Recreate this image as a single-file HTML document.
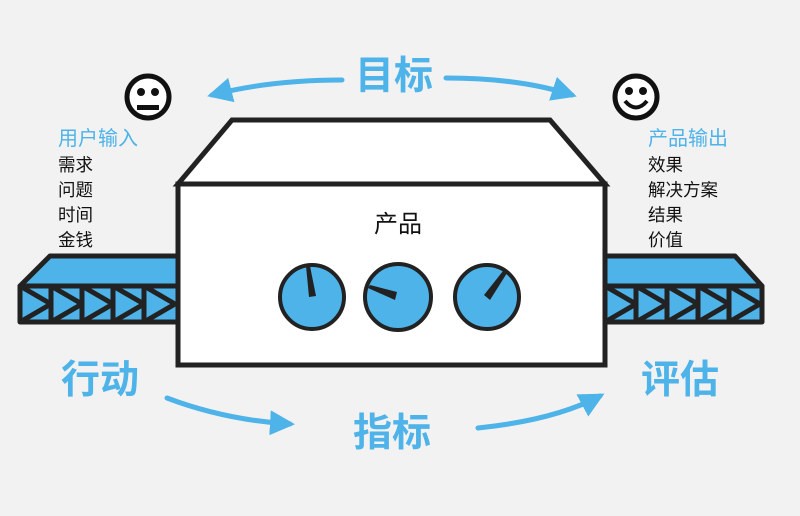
<!DOCTYPE html>
<html><head><meta charset="utf-8"><style>
body{margin:0;background:#f2f2f2;}
svg{display:block}
text{font-family:"Liberation Sans","Noto Sans CJK SC",sans-serif;}
</style></head><body>
<svg width="800" height="516" viewBox="0 0 800 516" xmlns="http://www.w3.org/2000/svg">
<defs>
<marker id="ah" viewBox="0 0 10 10" refX="8" refY="5" markerWidth="5" markerHeight="5" orient="auto-start-reverse" markerUnits="strokeWidth">
<path d="M0,0 L10,5 L0,10 z" fill="#4db3e9"/></marker>
</defs>
<rect width="800" height="516" fill="#f2f2f2"/>
<g stroke="#222" stroke-width="5" stroke-linejoin="round" fill="#4db3e9">
<path d="M50,256 L180,256 L180,286 L20,286 Z"/>
<rect x="20" y="286" width="160" height="36"/>
<path d="M20,286 L51,304 L20,322 M51,286 L82,304 L51,322 M82,286 L113,304 L82,322 M113,286 L144,304 L113,322 M144,286 L175,304 L144,322 M51,286 V322 M82,286 V322 M113,286 V322 M144,286 V322" fill="none"/>
<path d="M603,256 L735,256 L762,286 L603,286 Z"/>
<rect x="603" y="286" width="159" height="36"/>
<path d="M605,286 L636,304 L605,322 M636,286 L667,304 L636,322 M667,286 L698,304 L667,322 M698,286 L729,304 L698,322 M729,286 L760,304 L729,322 M636,286 V322 M667,286 V322 M698,286 V322 M729,286 V322" fill="none"/>
</g>
<g stroke="#222" stroke-width="5" stroke-linejoin="miter" fill="#fff">
<path d="M178,184 L232,120 L550,120 L605,184 Z"/>
<rect x="178" y="184" width="427" height="181"/>
</g>
<text x="398" y="232" font-size="24" text-anchor="middle" fill="#111">产品</text>
<g stroke="#222" stroke-width="4" fill="#4db3e9">
<circle cx="312" cy="297" r="32"/>
<circle cx="398" cy="297" r="33"/>
<circle cx="487" cy="297" r="32"/>
</g>
<g fill="#222">
<path d="M306,266 L310,266 L316,296 L309,297 Z"/>
<path d="M368,288 L370,285 L397,292 L395,300 Z"/>
<path d="M503,271 L507,273 L490,300 L484,295 Z"/>
</g>
<g>
<circle cx="148" cy="97" r="21" fill="#fff" stroke="#111" stroke-width="5"/>
<circle cx="141" cy="92" r="4" fill="#111"/><circle cx="155" cy="92" r="4" fill="#111"/>
<rect x="137" y="105" width="22" height="5" fill="#111"/>
<circle cx="636" cy="97" r="21" fill="#fff" stroke="#111" stroke-width="5"/>
<circle cx="629" cy="91" r="4" fill="#111"/><circle cx="643" cy="91" r="4" fill="#111"/>
<path d="M625,101 Q636,114 647,101" fill="none" stroke="#111" stroke-width="4"/>
</g>
<g stroke="#4db3e9" stroke-width="5" fill="none" stroke-linecap="round">
<path d="M342,80 Q270,80 212,95" marker-end="url(#ah)"/>
<path d="M446,78 Q520,78 572,95" marker-end="url(#ah)"/>
<path d="M167,398 Q225,420 290,424" marker-end="url(#ah)"/>
<path d="M478,428 Q555,420 600,396" marker-end="url(#ah)"/>
</g>
<g fill="#4db3e9" font-size="39" font-weight="bold" text-anchor="middle">
<text x="394" y="89">目标</text>
<text x="100" y="393">行动</text>
<text x="680" y="393">评估</text>
<text x="392" y="446">指标</text>
</g>
<g font-size="17.5">
<text x="58" y="145" fill="#4db3e9" font-size="20">用户输入</text>
<text x="58" y="171" fill="#111">需求</text>
<text x="58" y="196" fill="#111">问题</text>
<text x="58" y="221" fill="#111">时间</text>
<text x="58" y="246" fill="#111">金钱</text>
<text x="648" y="145" fill="#4db3e9" font-size="20">产品输出</text>
<text x="648" y="171" fill="#111">效果</text>
<text x="648" y="196" fill="#111">解决方案</text>
<text x="648" y="221" fill="#111">结果</text>
<text x="648" y="246" fill="#111">价值</text>
</g>
</svg>
</body></html>
